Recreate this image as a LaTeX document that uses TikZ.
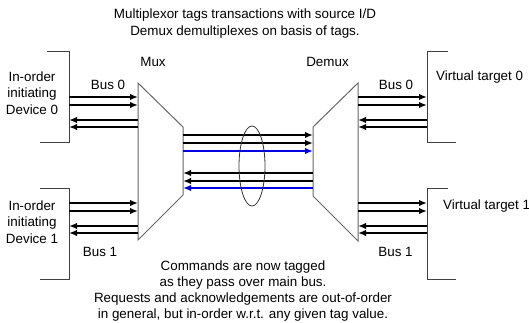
\documentclass[tikz,border=0pt]{standalone}
\usepackage{fontspec}
\setmainfont{Liberation Sans}
\usetikzlibrary{arrows.meta}
\begin{document}
\begin{tikzpicture}[x=1pt,y=-1pt,
  txt/.style={font=\fontsize{13.4}{16.3}\selectfont, inner sep=0pt, align=center},
  frame/.style={draw=black!75, line width=1pt},
  muxline/.style={draw=black!60, line width=1pt},
  bus/.style={line width=2pt, -{Latex[length=8pt,width=6.5pt]}},
  bluebus/.style={bus, draw=blue!90!black, -{Latex[length=8pt,width=6.5pt]}}]
\useasboundingbox (0,0) rectangle (529,323);
% texts
\node[txt] (title) at (245,23.5) {Multiplexor tags transactions with source I/D\\Demux demultiplexes on basis of tags.};
\node[txt] (note) at (243,291) {Commands are now tagged\\as they pass over main bus.\\Requests and acknowledgements are out-of-order\\in general, but in-order w.r.t. any given tag value.};
\node[txt] (muxlbl) at (153,62) {Mux};
\node[txt] (demuxlbl) at (327.5,62) {Demux};
\node[txt] (b0l) at (108,85) {Bus 0};
\node[txt] (b0r) at (396,85) {Bus 0};
\node[txt] (b1l) at (100,252) {Bus 1};
\node[txt] (b1r) at (395.5,252) {Bus 1};
\node[txt] (dev0) at (32,93) {In-order\\initiating\\Device 0};
\node[txt] (dev1) at (32,222) {In-order\\initiating\\Device 1};
\node[txt, anchor=west] (vt0) at (436,77) {Virtual target 0};
\node[txt, anchor=west] (vt1) at (443,206) {Virtual target 1};
% device brackets
\draw[frame] (47,52) -- (69,52) -- (69,143) -- (40,143);
\draw[frame] (40,188) -- (69,188) -- (69,279) -- (40,279);
\draw[frame] (448,52) -- (427,52) -- (427,143) -- (456,143);
\draw[frame] (448,188) -- (427,188) -- (427,279) -- (456,279);
% mux / demux
\draw[muxline] (138,83) -- (183,127) -- (183,195) -- (138,240) -- cycle;
\draw[muxline] (358,83) -- (313,127) -- (313,196) -- (358,241) -- cycle;
% coordinates
\foreach \y [count=\i] in {97,105,120,127,203,211,226,233} {
  \coordinate (dl\i) at (69,\y);
  \coordinate (ml\i) at (138,\y);
  \coordinate (dr\i) at (358,\y);
  \coordinate (tr\i) at (427,\y);
}
\foreach \y [count=\i] in {135,143,151,173,181,188} {
  \coordinate (mo\i) at (183,\y);
  \coordinate (di\i) at (313,\y);
}
% device side buses
\foreach \i in {1,2,5,6} {
  \draw[bus] (dl\i) -- (ml\i);
  \draw[bus] (dr\i) -- (tr\i);
}
\foreach \i in {3,4,7,8} {
  \draw[bus] (ml\i) -- (dl\i);
  \draw[bus] (tr\i) -- (dr\i);
}
% main bus
\draw[bus] (mo1) -- (di1);
\draw[bus] (mo2) -- (di2);
\draw[bluebus] (mo3) -- (di3);
\draw[bus] (di4) -- (mo4);
\draw[bus] (di5) -- (mo5);
\draw[bluebus] (di6) -- (mo6);
% ellipse
\draw[draw=black!80, line width=0.8pt] (252,166) ellipse [x radius=13, y radius=40];
\end{tikzpicture}
\end{document}
